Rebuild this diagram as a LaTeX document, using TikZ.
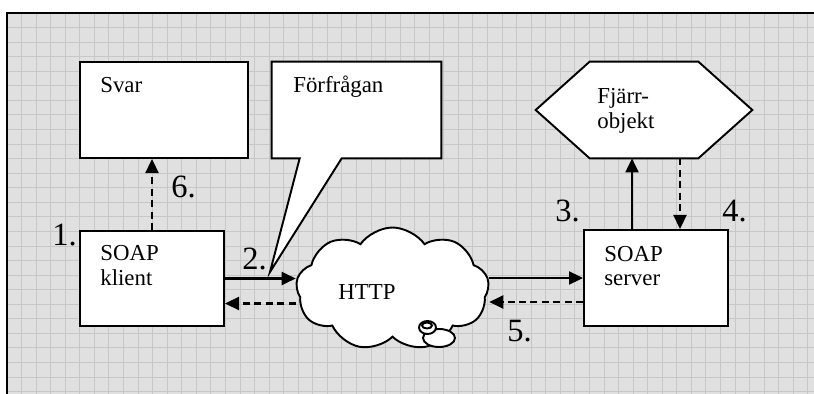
\documentclass[tikz,border=0pt]{standalone}
\usepackage{fontspec}
\setmainfont{Liberation Serif}
\usetikzlibrary{arrows.meta,shapes.symbols,calc}

\definecolor{gridbg}{gray}{0.88}
\definecolor{gridln}{gray}{0.78}

\tikzset{
  box/.style={draw, fill=white, line width=1.1pt, inner sep=0pt},
  txt/.style={inner sep=0pt, anchor=base west, font=\fontsize{13}{15}\selectfont},
  num/.style={inner sep=0pt, anchor=base west, font=\fontsize{18.5}{22}\selectfont},
  arr/.style={line width=1.2pt, -{Triangle[length=8pt,width=7.4pt]}},
  darr/.style={arr, dash pattern=on 4pt off 2.5pt}
}

\begin{document}
\begin{tikzpicture}[x=0.02cm,y=-0.02cm]
      \useasboundingbox (0,0) rectangle (814,394);
      % background grid
      \fill[gridbg] (7,13) rectangle (814,394);
      \foreach \i in {1,...,55}
        \draw[gridln, line width=0.5pt] ({7+14.56*\i},13) -- ({7+14.56*\i},394);
      \foreach \j in {1,...,26}
        \draw[gridln, line width=0.5pt] (7,{13+14.56*\j}) -- (814,{13+14.56*\j});
      \draw[line width=1.4pt] (7,394) -- (7,13) -- (814,13);

      % boxes
      \node[box, minimum width=3.36cm, minimum height=1.92cm] (svar) at (164,110) {};
      \node[inner sep=0pt, minimum width=3.38cm, minimum height=1.92cm] (req) at (356.5,110) {};
      \coordinate (tip) at (270,272);
      \draw[box] (req.north west) -- (req.north east) -- (req.south east)
        -- ($(req.south west)+(70,0)$) -- (tip) -- ($(req.south west)+(28,0)$)
        -- (req.south west) -- cycle;
      \node[inner sep=0pt, minimum width=4.32cm, minimum height=1.92cm] (obj) at (644,110) {};
      \draw[box] (obj.west) -- ($(obj.north west)+(54,0)$) -- ($(obj.north east)+(-54,0)$)
        -- (obj.east) -- ($(obj.south east)+(-54,0)$) -- ($(obj.south west)+(54,0)$) -- cycle;
      \node[box, minimum width=2.88cm, minimum height=1.9cm] (klient) at (152,278.5) {};
      \node[box, minimum width=2.88cm, minimum height=1.92cm] (server) at (656,278) {};
      \node[box, cloud, cloud puffs=9, cloud puff arc=110, aspect=1.6,
        minimum width=3.86cm, minimum height=2.46cm] (http) at (392.5,289) {};
      \draw[box] (439,338) ellipse [x radius=16, y radius=9];
      \draw[box] (427.5,327.5) ellipse [x radius=8.5, y radius=6.5];
      \draw[box] (427,325.5) ellipse [x radius=5, y radius=3];

      % texts
      \node[txt] (svart) at (100,93) {Svar};
      \node[txt] (reqt) at (293,93) {Förfrågan};
      \node[txt] (objt1) at (597,104) {Fjärr-};
      \node[txt] (objt2) at (597,129) {objekt};
      \node[txt] (klientt1) at (100,261) {SOAP};
      \node[txt] (klientt2) at (100,286) {klient};
      \node[txt] (servert1) at (604,262) {SOAP};
      \node[txt] (servert2) at (604,286) {server};
      \node[txt] (httpt) at (338,300) {HTTP};

      % step numbers
      \node[num] (n1) at (52,246) {1.};
      \node[num] (n2) at (242,270) {2.};
      \node[num] (n3) at (555,222) {3.};
      \node[num] (n4) at (722,222) {4.};
      \node[num] (n5) at (507,342) {5.};
      \node[num] (n6) at (171,198) {6.};

      % connectors
      \coordinate (s3) at ($(server.north)+(-24,0)$);
      \coordinate (s4) at ($(server.north)+(24,0)$);
      \draw[darr] (klient.north) -- (klient.north |- svar.south);
      \draw[arr] (klient.east) -- (klient.east -| http.west);
      \draw[darr] ($(http.west |- klient.east)+(0,25)$) -- ($(klient.east)+(0,25)$);
      \draw[arr] (server.west -| http.east) -- (server.west);
      \draw[darr] ($(server.west)+(0,24)$) -- ($(server.west -| http.east)+(0,24)$);
      \draw[arr] (s3) -- (s3 |- obj.south);
      \draw[darr] (s4 |- obj.south) -- (s4);
    \end{tikzpicture}
\end{document}
